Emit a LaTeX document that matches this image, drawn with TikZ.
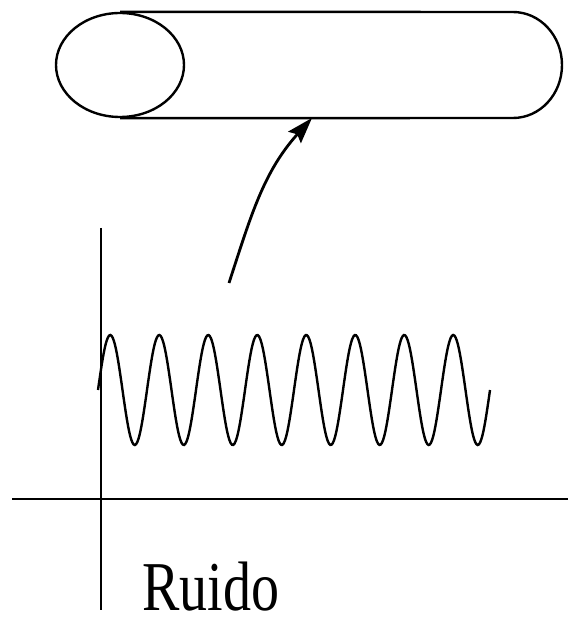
\documentclass[tikz,border=0pt]{standalone}
\usepackage{fontspec}
\setmainfont{Liberation Serif}
\usetikzlibrary{arrows.meta,shapes.geometric,positioning,calc}

\begin{document}
\begin{tikzpicture}[x=1pt,y=1pt,line width=2.4pt]
  \useasboundingbox (0,0) rectangle (568,625);
  % tubo y senal de ruido
  \node[draw, ellipse, minimum width=128pt, minimum height=104pt, inner sep=0pt] (tapa) at (120,560) {};
  \coordinate (fin) at (513,613);
  \draw (tapa.north) -- (fin) arc[start angle=90, end angle=-90, x radius=49, y radius=53] -- (tapa.south);
  \coordinate (impacto) at (312,507);
  \coordinate (origen) at (229,342);

  \coordinate (arriba) at (101,397);
  \coordinate (abajo) at (101,15);
  \coordinate (izq) at (12,126);
  \coordinate (der) at (568,126);
  \draw (arriba) -- (abajo);
  \draw (izq) -- (der);

  \draw[line width=2.4pt] plot[domain=98:490, samples=320, smooth] (\x, {235+55*sin(7.3469*(\x-98))});
  \draw[line width=2.8pt, -{Stealth[length=26pt,width=17pt,inset=4pt]}] (origen) to[out=72,in=228] (impacto);

  \node[font=\fontsize{70}{80}\selectfont] (ruido) at (211,38) {\scalebox{0.8}[1]{Ruido}};
\end{tikzpicture}
\end{document}
